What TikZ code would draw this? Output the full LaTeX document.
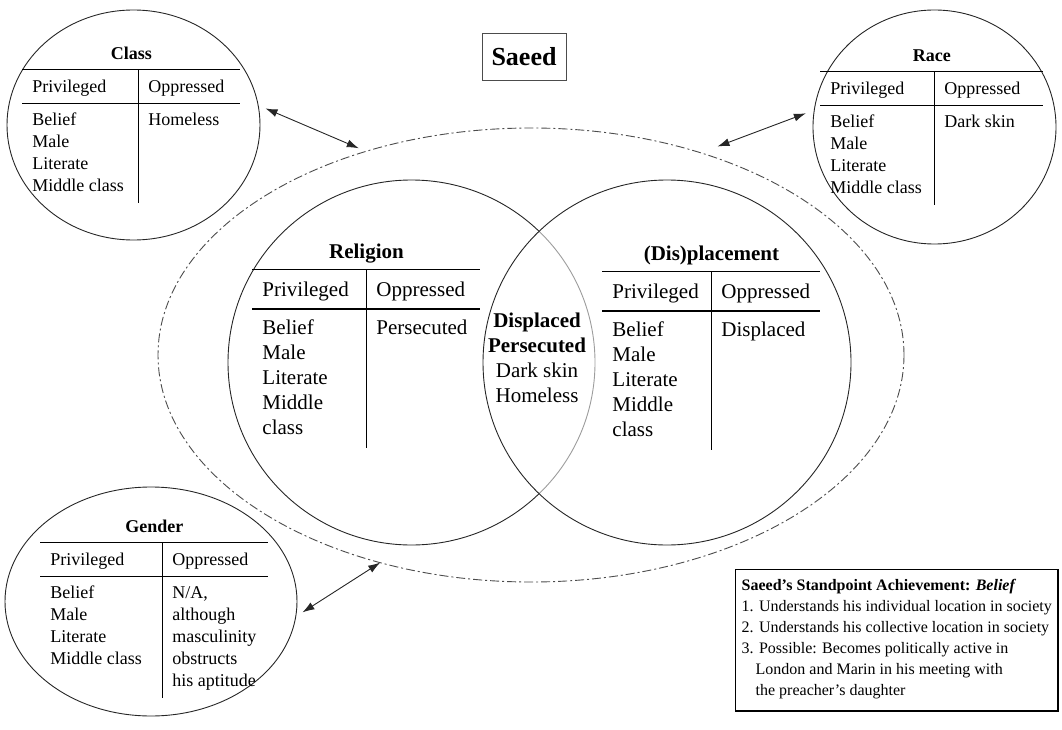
\documentclass[tikz,border=0pt]{standalone}
\usepackage{fontspec}
\setmainfont{Liberation Serif}
\usetikzlibrary{arrows.meta,shapes.geometric}

\setlength{\arrayrulewidth}{1.5pt}
\setlength{\tabcolsep}{10pt}
\newcommand{\ttlrow}{\rule[-0.5em]{0pt}{0pt}}
\newcommand{\hdrow}{\rule[-0.55em]{0pt}{1.8em}}
\newcommand{\toprow}{\rule{0pt}{1.2em}}
\newcommand{\lastrow}{\rule[-0.6em]{0pt}{0pt}}

\begin{document}
\begin{tikzpicture}[
        %Environment config
        x=1pt, y=-1pt,
        line width=0.9pt,
        %Environment styles
        RingCfg/.style={ellipse, draw=black!85, inner sep=0pt, outer sep=0pt},
        SmallTab/.style={inner sep=0pt, anchor=south west, font=\fontsize{18}{22}\selectfont},
        BigTab/.style={inner sep=0pt, anchor=south west, font=\fontsize{21}{25}\selectfont},
        LinkCfg/.style={{Latex[length=12pt,width=8pt]}-{Latex[length=12pt,width=8pt]}, draw=black!85, line width=0.9pt}
    ]
    \useasboundingbox (0,0) rectangle (1062,730);

    \path
        (531,355) node[RingCfg, draw=black!70, dash pattern=on 9pt off 3pt on 2pt off 3pt,
            minimum width=746pt, minimum height=454pt](ctx){}
        (133.5,125) node[RingCfg, minimum width=253pt, minimum height=230pt](cls){}
        (934.5,127) node[RingCfg, minimum width=243pt, minimum height=234pt](race){}
        (151,601.5) node[RingCfg, minimum width=292pt, minimum height=229pt](gen){}
        (411.5,362.5) node[RingCfg, minimum width=367pt, minimum height=365pt](rel){}
        (667,362.5) node[RingCfg, fill=white, fill opacity=0.55, draw opacity=1,
            minimum width=368pt, minimum height=365pt](dis){};

    % outer tables
    \node[SmallTab] (clsTab) at (22,203) {%
        \begin{tabular}{p{96pt}|p{82pt}}
            \multicolumn{2}{c}{\textbf{Class}\ttlrow}\\ \hline
            Privileged\hdrow & Oppressed\\ \hline
            Belief\toprow & Homeless\\
            Male & \\
            Literate & \\
            Middle class\lastrow & \\
        \end{tabular}};
    \node[SmallTab] (raceTab) at (820,205) {%
        \begin{tabular}{p{94pt}|p{89pt}}
            \multicolumn{2}{c}{\textbf{Race}\ttlrow}\\ \hline
            Privileged\hdrow & Oppressed\\ \hline
            Belief\toprow & Dark skin\\
            Male & \\
            Literate & \\
            Middle class\lastrow & \\
        \end{tabular}};
    \node[SmallTab] (genTab) at (40,698) {%
        \begin{tabular}{p{102pt}|p{86pt}}
            \multicolumn{2}{c}{\textbf{Gender}\ttlrow}\\ \hline
            Privileged\hdrow & Oppressed\\ \hline
            Belief\toprow & N/A,\\
            Male & although\\
            Literate & masculinity\\
            Middle class & obstructs\\
            \lastrow & his aptitude\\
        \end{tabular}};

    % inner tables
    \node[BigTab] (relTab) at (252,448) {%
        \begin{tabular}{p{94pt}|p{94pt}}
            \multicolumn{2}{c}{\textbf{Religion}\ttlrow}\\ \hline
            Privileged\hdrow & Oppressed\\ \hline
            Belief\toprow & Persecuted\\
            Male & \\
            Literate & \\
            Middle & \\
            class\lastrow & \\
        \end{tabular}};
    \node[BigTab] (disTab) at (602,450) {%
        \begin{tabular}{p{89pt}|p{89pt}}
            \multicolumn{2}{c}{\textbf{(Dis)placement}\ttlrow}\\ \hline
            Privileged\hdrow & Oppressed\\ \hline
            Belief\toprow & Displaced\\
            Male & \\
            Literate & \\
            Middle & \\
            class\lastrow & \\
        \end{tabular}};

    \node[align=center, font=\fontsize{21}{25}\selectfont] (core) at (537,358)
        {\textbf{Displaced}\\\textbf{Persecuted}\\Dark skin\\Homeless};

    \node[draw=black!70, minimum width=84pt, minimum height=47pt, inner sep=0pt,
        font=\fontsize{26}{30}\selectfont\bfseries] (name) at (524,57) {Saeed};

    \node[draw=black, line width=1.4pt, anchor=north west, inner xsep=6pt, inner ysep=10pt,
        align=left, font=\fontsize{16}{21}\selectfont] (ach) at (735,569)
        {\textbf{Saeed’s Standpoint Achievement: \textit{Belief}}\\
         1. Understands his individual location in society\\
         2. Understands his collective location in society\\
         3. Possible: Becomes politically active in\\
         \hspace*{14pt}London and Marin in his meeting with\\
         \hspace*{14pt}the preacher’s daughter\rule[-5pt]{0pt}{0pt}};

    \draw[LinkCfg, shorten <=8pt, shorten >=8pt] (cls.9.4) -- (ctx.129.6);
    \draw[LinkCfg, shorten <=18pt, shorten >=9pt] (ctx.50.9) -- (race.172);
    \draw[LinkCfg, shorten <=8pt] (gen.-6.7) -- (ctx.234.3);
\end{tikzpicture}
\end{document}
